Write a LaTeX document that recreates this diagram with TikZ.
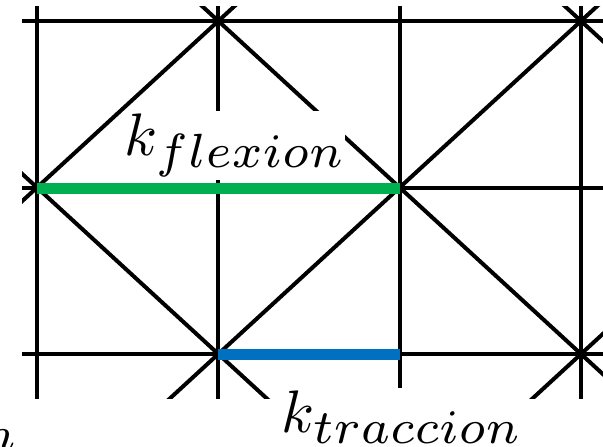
\documentclass[tikz,border=0pt]{standalone}
\usepackage{fix-cm}
\DeclareFontShape{OML}{cmm}{m}{it}{<-52>cmmi7 <52->cmmi10}{}
\DeclareMathSizes{60}{60}{48}{36}
\definecolor{flexgreen}{RGB}{0,176,80}
\definecolor{tracblue}{RGB}{0,112,192}
\tikzset{
  mesh/.style={line width=4pt, black},
  spring/.style={line width=11pt, line cap=butt},
  lbl/.style={fill=white, inner xsep=1.5pt, inner ysep=2.5pt, anchor=base west, font=\fontsize{60}{72}\selectfont}
}
\begin{document}
\begin{tikzpicture}[x=1pt, y=-1pt]
\useasboundingbox (0,0) rectangle (603,447);
\begin{scope}
\clip (22,6) rectangle (603,398);
% horizontal lines
\foreach \yy in {21,188,354} \draw[mesh] (0,\yy) -- (620,\yy);
% vertical lines
\foreach \xx in {37,218,400,581} \draw[mesh] (\xx,0) -- (\xx,460);
% diagonals in lattice coordinates
\begin{scope}[shift={(37,21)}, x=181.33pt, y=-166.5pt]
  \foreach \c in {-1,1,3} \draw[mesh] ({\c-2},-2) -- ({\c+5},5);
  \foreach \c in {1,3,5} \draw[mesh] ({\c+2},-2) -- ({\c-5},5);
\end{scope}
\end{scope}
\coordinate (g1) at (37,188);
\coordinate (g2) at (400,188);
\coordinate (b1) at (218,354);
\coordinate (b2) at (400,354);
\draw[spring, flexgreen] (g1) -- (g2);
\draw[spring, tracblue] (b1) -- (b2);
\node[lbl] (kf) at (123,155) {$k_{flexion}$};
\node[lbl] (kt) at (280,432) {$k_{traccion}$};
\node[anchor=base east, inner sep=0pt, font=\fontsize{48}{58}\selectfont] (kn) at (16,450) {$n$};
\end{tikzpicture}
\end{document}
